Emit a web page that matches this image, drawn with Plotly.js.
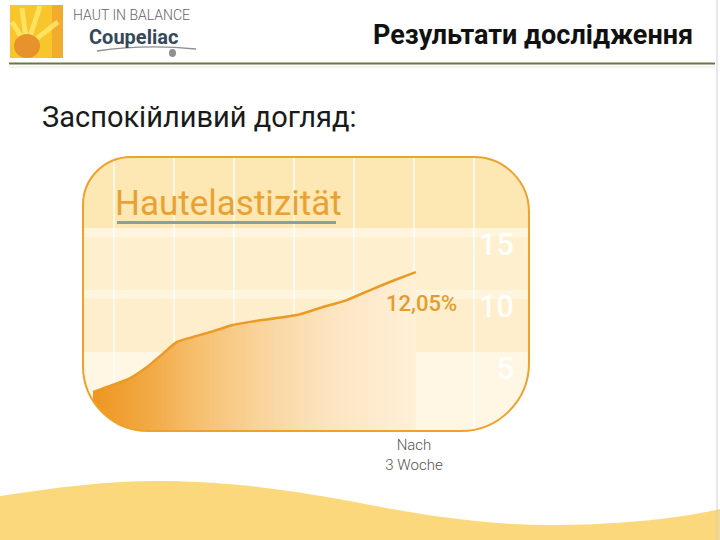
<!DOCTYPE html>
<html><head><meta charset="utf-8">
<script src="https://cdn.plot.ly/plotly-3.0.1.min.js"></script>
<style>html,body{margin:0;padding:0;background:#fff;}#chart{width:720px;height:540px;}</style>
</head><body><div id="chart"></div>
<script>
// ---- data ----
const xPos       = [0.65, 0.98, 1.27, 1.55, 1.82, 2.05, 2.55, 2.98, 3.32, 4.05, 4.43, 4.88, 5.27, 5.66, 6.03];
const elasticity = [1.77, 2.34, 2.90, 3.79, 4.89, 5.81, 6.53, 7.18, 7.47, 7.98, 8.55, 9.19, 10.0, 10.77, 11.45];
const yTickVals  = [5, 10, 15];
const yTickText  = ['5', '10', '15'];
const xTickVals  = [1, 2, 3, 4, 5, 6, 7];
const xTickText  = ['', '', '', '', '', 'Nach<br>3 Woche', ''];
const endLabel   = '12,05%';
const chartTitle = 'Hautelastizität';
const slideTitle = 'Результати дослідження';
const subTitle   = 'Заспокійливий догляд:';

// ---- layout geometry (pixels) ----
const W = 720, H = 540;
const mL = 83, mR = 191, mT = 157, mB = 109;
const pw = W - mL - mR, ph = H - mT - mB;
const X = px => (px - mL) / pw;
const Y = py => 1 - (py - mT) / ph;
const P = (px, py) => X(px).toFixed(5) + ',' + Y(py).toFixed(5);
const K = 0.5523;
function rr(x0, y0, x1, y1, a, b, c, d) {
  return `M ${P(x0 + a, y0)} L ${P(x1 - b, y0)} C ${P(x1 - b + K * b, y0)} ${P(x1, y0 + b - K * b)} ${P(x1, y0 + b)} ` +
         `L ${P(x1, y1 - c)} C ${P(x1, y1 - c + K * c)} ${P(x1 - c + K * c, y1)} ${P(x1 - c, y1)} ` +
         `L ${P(x0 + d, y1)} C ${P(x0 + d - K * d, y1)} ${P(x0, y1 - d + K * d)} ${P(x0, y1 - d)} ` +
         `L ${P(x0, y0 + a)} C ${P(x0, y0 + a - K * a)} ${P(x0 + a - K * a, y0)} ${P(x0 + a, y0)} Z`;
}
const bx0 = 83, by0 = 157, bx1 = 529, by1 = 431;
const rTL = 48, rTR = 55, rBR = 68, rBL = 65;
const yMin = -1.371, yMax = 20.73;

const shapes = [];
// bottom wave
shapes.push({type: 'path', xref: 'paper', yref: 'paper', layer: 'below', line: {width: 0}, fillcolor: '#fbd87b',
  path: `M ${P(0, 496)} C ${P(60, 487)} ${P(110, 480)} ${P(167, 481)} C ${P(240, 482)} ${P(300, 492)} ${P(360, 503)} ` +
        `C ${P(420, 515)} ${P(490, 526)} ${P(560, 525)} C ${P(630, 524)} ${P(680, 518)} ${P(720, 509)} L ${P(720, 540)} L ${P(0, 540)} Z`});
// header rules
shapes.push({type: 'line', xref: 'paper', yref: 'paper', x0: X(9), x1: X(715), y0: Y(63.5), y1: Y(63.5), line: {color: '#6f7446', width: 2}});
shapes.push({type: 'line', xref: 'paper', yref: 'paper', x0: X(9), x1: X(715), y0: Y(67), y1: Y(67), line: {color: '#e6e6e0', width: 1}});
shapes.push({type: 'line', xref: 'paper', yref: 'paper', x0: X(717), x1: X(717), y0: Y(0), y1: Y(540), line: {color: '#d0d0d0', width: 1}});
// logo
shapes.push({type: 'rect', xref: 'paper', yref: 'paper', x0: X(10), x1: X(63), y0: Y(5), y1: Y(58), line: {width: 0}, fillcolor: '#f8c62c'});
shapes.push({type: 'rect', xref: 'paper', yref: 'paper', x0: X(52), x1: X(63), y0: Y(5), y1: Y(58), line: {width: 0}, fillcolor: 'rgba(238,150,50,0.55)'});
[[22, 8], [40, 6], [58, 22], [12, 22]].forEach(p => shapes.push({type: 'line', xref: 'paper', yref: 'paper',
  x0: X(27), y0: Y(46), x1: X(p[0]), y1: Y(p[1]), line: {color: 'rgba(255,232,110,0.8)', width: 5}}));
shapes.push({type: 'circle', xref: 'paper', yref: 'paper', x0: X(14), x1: X(40), y0: Y(34), y1: Y(58), line: {width: 0}, fillcolor: '#e8922c'});
shapes.push({type: 'path', xref: 'paper', yref: 'paper', line: {color: '#8b9090', width: 1.3},
  path: `M ${P(97, 51)} Q ${P(145, 44)} ${P(196, 49)}`});
shapes.push({type: 'circle', xref: 'paper', yref: 'paper', x0: X(169), x1: X(176), y0: Y(49), y1: Y(57), line: {width: 0}, fillcolor: '#8b9090'});
// bands inside the rounded box
shapes.push({type: 'path', xref: 'paper', yref: 'paper', layer: 'below', line: {width: 0}, fillcolor: '#fde8b3', path: rr(bx0, by0, bx1, 228, rTL, rTR, 0, 0)});
shapes.push({type: 'path', xref: 'paper', yref: 'paper', layer: 'below', line: {width: 0}, fillcolor: '#feefcf', path: rr(bx0, 228, bx1, 290, 0, 0, 0, 0)});
shapes.push({type: 'path', xref: 'paper', yref: 'paper', layer: 'below', line: {width: 0}, fillcolor: '#fff5df', path: rr(bx0, 228, bx1, 237, 0, 0, 0, 0)});
shapes.push({type: 'path', xref: 'paper', yref: 'paper', layer: 'below', line: {width: 0}, fillcolor: '#feeecb', path: rr(bx0, 290, bx1, 352, 0, 0, 0, 0)});
shapes.push({type: 'path', xref: 'paper', yref: 'paper', layer: 'below', line: {width: 0}, fillcolor: '#fff5df', path: rr(bx0, 290, bx1, 299, 0, 0, 0, 0)});
shapes.push({type: 'path', xref: 'paper', yref: 'paper', layer: 'below', line: {width: 0}, fillcolor: '#fff6e4', path: rr(bx0, 352, bx1, by1, 0, 0, rBR, rBL)});
// underline of chart title
shapes.push({type: 'line', xref: 'paper', yref: 'paper', x0: X(117), x1: X(336), y0: Y(222.5), y1: Y(222.5), line: {color: '#8f9ca8', width: 3}});
// mask outside the rounded bottom-left corner
shapes.push({type: 'path', xref: 'paper', yref: 'paper', layer: 'above', line: {width: 0}, fillcolor: '#ffffff',
  path: `M ${P(bx0 - 3, by1 - rBL)} L ${P(bx0 - 3, by1 + 3)} L ${P(bx0 + rBL, by1 + 3)} L ${P(bx0 + rBL, by1)} ` +
        `C ${P(bx0 + rBL - K * rBL, by1)} ${P(bx0, by1 - rBL + K * rBL)} ${P(bx0, by1 - rBL)} Z`});
// rounded border
shapes.push({type: 'path', xref: 'paper', yref: 'paper', layer: 'above', line: {color: '#efa12c', width: 2}, fillcolor: 'rgba(0,0,0,0)',
  path: rr(bx0, by0, bx1, by1, rTL, rTR, rBR, rBL)});

const ann = (text, px, py, opt) => Object.assign({text, xref: 'paper', yref: 'paper', x: X(px), y: Y(py), showarrow: false,
  xanchor: 'left', yanchor: 'middle'}, opt);
const annotations = [
  ann(slideTitle, 695, 35, {xanchor: 'right', font: {family: 'Roboto', size: 27, weight: 700, color: '#111111'}}),
  ann(subTitle, 40, 117, {font: {family: 'Roboto', size: 29, color: '#1a1a1a'}}),
  ann('HAUT IN BALANCE', 71, 15, {font: {family: 'Roboto', size: 14, weight: 300, color: '#666666'}}),
  ann('Coupeliac', 87, 37, {font: {family: 'Roboto', size: 20, weight: 700, color: '#34485a'}}),
  ann(chartTitle, 113, 203, {font: {family: 'Roboto', size: 35, color: '#e9a133'}}),
  ann(endLabel, 384, 303, {font: {family: 'Roboto', size: 22, weight: 500, color: '#e39c30'}})
];

const traces = [
  {x: [xPos[0], xPos[xPos.length - 1]], y: [yMin - 3, yMin - 3], mode: 'lines', line: {width: 0}, hoverinfo: 'skip'},
  {x: xPos, y: elasticity, mode: 'lines', line: {color: '#eb9a24', width: 2.5, shape: 'spline', smoothing: 0.5},
   fill: 'tonexty', fillcolor: 'rgba(245,190,110,0.8)',
   fillgradient: {type: 'horizontal', colorscale: [[0, 'rgb(238,150,32)'], [0.18, 'rgb(242,170,70)'], [0.33, 'rgb(246,192,112)'],
     [0.52, 'rgb(249,212,155)'], [0.73, 'rgb(252,228,192)'], [1, 'rgb(255,240,216)']]}}
];

const layout = {
  width: W, height: H, margin: {l: mL, r: mR, t: mT, b: mB, pad: 0},
  paper_bgcolor: '#ffffff', plot_bgcolor: 'rgba(0,0,0,0)', showlegend: false,
  xaxis: {range: [0.4833, 7.9167], tickmode: 'array', tickvals: xTickVals, ticktext: xTickText, showgrid: true,
    gridcolor: 'rgba(255,255,255,0.7)', gridwidth: 2, zeroline: false, showline: false, ticks: '',
    tickfont: {family: 'Roboto', size: 15, weight: 300, color: '#555555'}, ticklabelstandoff: 3, fixedrange: true},
  yaxis: {range: [yMin, yMax], side: 'right', tickmode: 'array', tickvals: yTickVals, ticktext: yTickText,
    ticklabelposition: 'inside', ticklabelshift: 16, ticklabelstandoff: 12, showgrid: false, zeroline: false,
    showline: false, ticks: '', tickfont: {family: 'Roboto', size: 31, weight: 500, color: 'rgba(255,255,255,0.95)'}, fixedrange: true},
  shapes, annotations
};
Plotly.newPlot('chart', traces, layout, {staticPlot: true, displayModeBar: false});
</script></body></html>
